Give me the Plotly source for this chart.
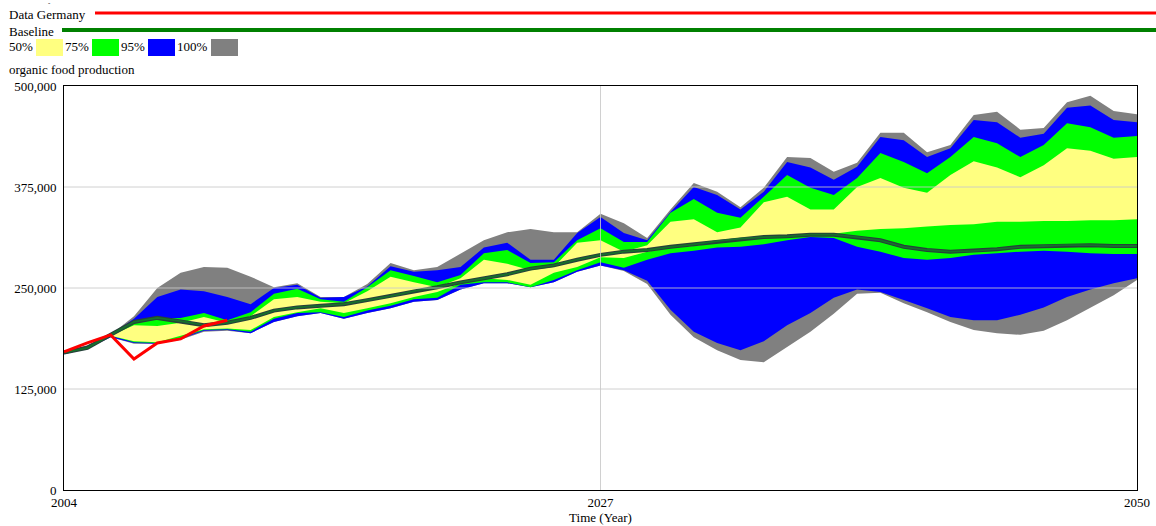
import plotly.graph_objects as go

# values in thousands
years = list(range(2004, 2051))
data_germany_years = list(range(2004, 2012))
data_germany = [171, 182, 192, 162, 182, 187, 203, 210]

baseline = [170, 176, 192, 208, 213, 209, 204, 207, 213, 222, 226, 228, 230, 235, 240, 246,
            251, 257, 262, 267, 274, 278, 285, 291, 295, 297, 301, 304, 308, 311, 313, 314,
            316, 316, 313, 309, 301, 297, 295, 296, 298, 301, 302, 303, 303, 302, 302]

p100_hi = [171, 179, 192, 215, 250, 269, 276, 275, 264, 251, 256, 239, 239, 255, 281, 272,
           276, 292, 309, 319, 323, 319, 319, 342, 330, 312, 347, 380, 369, 350, 374, 412,
           411, 394, 405, 442, 442, 418, 427, 464, 468, 446, 448, 480, 488, 469, 465]
p95_hi = [171, 178, 192, 212, 239, 248, 246, 239, 230, 250, 254, 238, 239, 252, 277, 270,
          272, 276, 300, 306, 285, 285, 318, 338, 318, 309, 344, 375, 365, 347, 369, 406,
          399, 384, 400, 437, 433, 412, 423, 458, 455, 436, 441, 473, 476, 458, 455]
p75_hi = [171, 177, 192, 209, 212, 213, 219, 210, 220, 243, 249, 236, 233, 251, 272, 265,
          257, 266, 293, 297, 281, 282, 309, 324, 307, 307, 343, 360, 343, 337, 363, 390,
          374, 365, 386, 417, 406, 392, 412, 437, 429, 412, 427, 454, 449, 436, 438]
p50_hi = [171, 177, 191, 204, 203, 207, 214, 207, 215, 236, 239, 233, 231, 246, 264, 257,
          251, 262, 285, 280, 272, 276, 306, 309, 295, 303, 332, 335, 319, 325, 356, 363,
          347, 347, 375, 386, 374, 368, 390, 407, 399, 387, 402, 423, 420, 410, 412]
p50_lo = [170, 176, 191, 184, 183, 191, 199, 200, 198, 214, 220, 225, 219, 225, 231, 239,
          245, 256, 262, 260, 254, 269, 276, 288, 287, 295, 300, 302, 306, 309, 313, 314,
          314, 317, 321, 323, 324, 326, 328, 329, 332, 332, 333, 333, 334, 334, 335]
p75_lo = [170, 176, 191, 183, 182, 188, 198, 199, 196, 212, 219, 220, 214, 222, 228, 236,
          238, 254, 257, 257, 251, 260, 272, 282, 275, 285, 293, 296, 300, 301, 304, 309,
          313, 312, 301, 295, 287, 285, 287, 291, 293, 295, 296, 295, 293, 292, 292]
p95_lo = [168, 175, 189, 182, 181, 187, 197, 198, 194, 208, 215, 219, 212, 219, 225, 233,
          235, 248, 256, 256, 251, 257, 270, 278, 272, 259, 223, 196, 182, 173, 184, 204,
          219, 238, 248, 245, 235, 225, 214, 210, 210, 217, 226, 239, 248, 256, 262]
p100_lo = [168, 175, 189, 181, 181, 186, 196, 197, 194, 208, 215, 219, 212, 219, 225, 233,
           235, 248, 256, 256, 251, 257, 270, 278, 271, 255, 217, 189, 173, 161, 158, 177,
           196, 218, 243, 244, 231, 220, 208, 198, 194, 192, 197, 210, 225, 241, 260]

y_ticks = [0, 125000, 250000, 375000, 500000]
x_ticks = [2004, 2027, 2050]

FONT = "Times New Roman"


def k(vals):
    return [v * 1000 for v in vals]


fig = go.Figure()

bands = [
    (p100_lo, p100_hi, "#808080"),
    (p95_lo, p95_hi, "#0000ff"),
    (p75_lo, p75_hi, "#00ff00"),
    (p50_lo, p50_hi, "#ffff80"),
]
for lo, hi, col in bands:
    fig.add_trace(go.Scatter(x=years, y=k(lo), mode="lines", line=dict(width=0, color=col),
                             showlegend=False, hoverinfo="skip"))
    fig.add_trace(go.Scatter(x=years, y=k(hi), mode="lines", line=dict(width=0, color=col),
                             fill="tonexty", fillcolor=col, showlegend=False))

fig.add_trace(go.Scatter(x=years, y=k(baseline), mode="lines",
                         line=dict(color="#26403a", width=4), showlegend=False))
fig.add_trace(go.Scatter(x=years, y=k(baseline), mode="lines",
                         line=dict(color="#17702c", width=1.8), showlegend=False))
fig.add_trace(go.Scatter(x=data_germany_years, y=k(data_germany), mode="lines",
                         line=dict(color="#ff0000", width=3), showlegend=False))

# gridlines drawn over the bands, as in the original
grid = "rgba(200,200,200,0.85)"
for v in y_ticks[1:-1]:
    fig.add_shape(type="line", xref="paper", yref="y", x0=0, x1=1, y0=v, y1=v,
                  line=dict(color=grid, width=1), layer="above")
for v in x_ticks[1:-1]:
    fig.add_shape(type="line", xref="x", yref="paper", x0=v, x1=v, y0=0, y1=1,
                  line=dict(color=grid, width=1), layer="above")

# header legend, positioned in pixels of the 1156x526 canvas
L, R, T, B = 64, 1137, 86, 490


def px(x):
    return (x - L) / (R - L)


def py(y):
    return (B - y) / (B - T)


def label(text, x, y, size=13):
    fig.add_annotation(text=text, x=px(x), y=py(y), xref="paper", yref="paper",
                       xanchor="left", yanchor="middle", showarrow=False,
                       font=dict(family=FONT, size=size, color="black"))


label("-", 46, 3, size=7)
label("Data Germany", 7, 14)
fig.add_shape(type="line", xref="paper", yref="paper", x0=px(95), x1=px(1156),
              y0=py(13), y1=py(13), line=dict(color="#ff0000", width=3))
label("Baseline", 7, 31)
fig.add_shape(type="line", xref="paper", yref="paper", x0=px(62), x1=px(1156),
              y0=py(30), y1=py(30), line=dict(color="#008000", width=4))

swatches = [("50%", 7, 36, "#ffff80"), ("75%", 63, 92, "#00ff00"),
            ("95%", 119, 148, "#0000ff"), ("100%", 175, 211, "#808080")]
for text, tx, sx, col in swatches:
    label(text, tx, 47)
    fig.add_shape(type="rect", xref="paper", yref="paper", x0=px(sx), x1=px(sx + 27),
                  y0=py(56), y1=py(39), line=dict(width=0), fillcolor=col)

label("organic food production", 7, 70)

axis_common = dict(showline=True, linecolor="black", linewidth=1, mirror=True,
                   showgrid=False, zeroline=False, ticks="", automargin=False,
                   tickfont=dict(family=FONT, size=13, color="black"))

fig.update_xaxes(range=[2004, 2050], tickvals=x_ticks, ticktext=[str(v) for v in x_ticks],
                 title=dict(text="Time (Year)", standoff=4,
                            font=dict(family=FONT, size=13, color="black")),
                 **axis_common)
fig.update_yaxes(range=[0, 500000], tickvals=y_ticks, tickformat=",",
                 ticklabelstandoff=4, **axis_common)

fig.update_layout(width=1156, height=526, margin=dict(l=L, r=1156 - R, t=T, b=526 - B),
                  plot_bgcolor="white", paper_bgcolor="white",
                  font=dict(family=FONT, size=13, color="black"))

fig.write_html("out.html", config={"displayModeBar": False},
               post_script="document.body.style.margin='0px';")
